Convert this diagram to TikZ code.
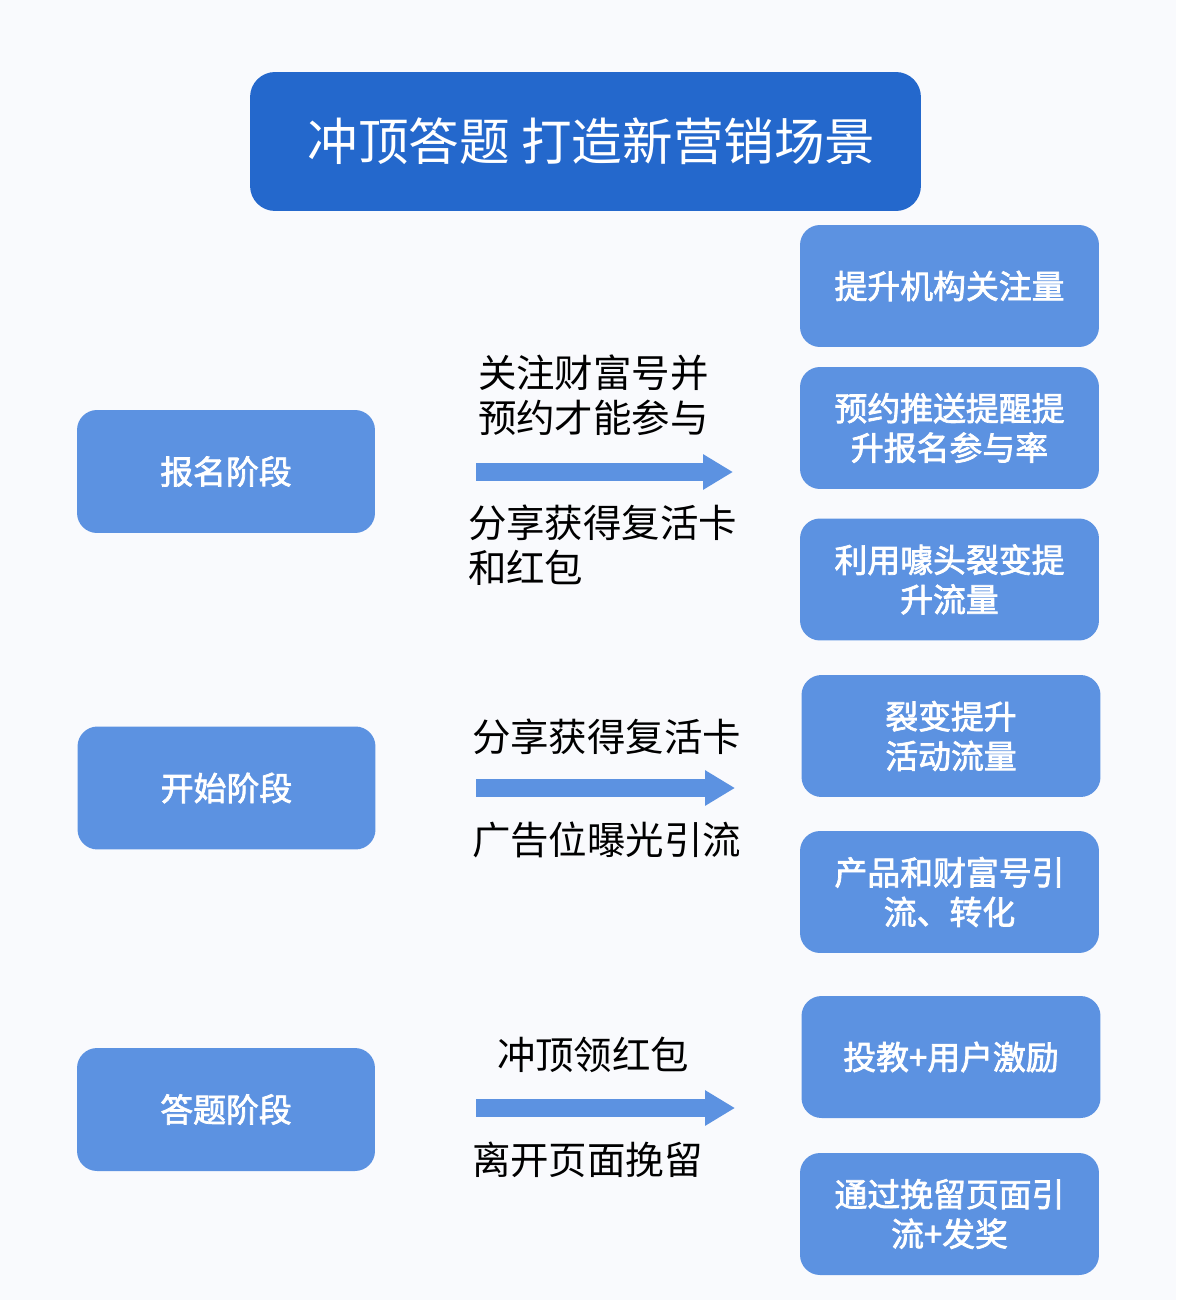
\documentclass[tikz,border=0pt]{standalone}
\usepackage{fontspec}
\setmainfont{Noto Sans CJK SC}
\newfontfamily\boxfont[FakeBold=2.2]{Noto Sans CJK SC}
\usepackage{tikz}
\usetikzlibrary{arrows.meta,positioning}
\definecolor{titleblue}{RGB}{36,104,204}
\definecolor{boxblue}{RGB}{92,146,225}
\definecolor{bgcol}{RGB}{249,250,253}

\begin{document}
\begin{tikzpicture}[x=0.02cm,y=-0.02cm,every node/.style={outer sep=0pt},
 titlebox/.style={fill=titleblue,rounded corners=0.5cm,minimum width=13.42cm,minimum height=2.78cm,text=white,font=\fontsize{28.8}{33}\selectfont},
 stage/.style={fill=boxblue,rounded corners=0.4cm,minimum width=5.96cm,minimum height=2.46cm,text=white,font=\boxfont\fontsize{18.7}{22}\selectfont},
 effect/.style={fill=boxblue,rounded corners=0.4cm,minimum width=5.98cm,minimum height=2.44cm,text=white,align=center,font=\boxfont\fontsize{18.7}{22.5}\selectfont},
 note/.style={anchor=west,align=left,inner sep=0pt,font=\fontsize{21.9}{25.5}\selectfont},
 bigarrow/.style={draw=boxblue,line width=10pt,-{Triangle[length=17pt,width=19pt]}}]

 \fill[bgcol] (0,0) rectangle (1176,1300);

 \node[titlebox] (title) at (585.5,141.5) {\hspace*{7pt}冲顶答题 打造新营销场景};

 % stages
 \node[stage] (signup) at (226,471.5) {报名阶段};
 \node[stage] (start) at (226.5,788) {开始阶段};
 \node[stage] (answer) at (226,1109.5) {答题阶段};

 % results
 \node[effect] (r1) at (949.5,286) {提升机构关注量};
 \node[effect] (r2) at (949.5,428) {预约推送提醒提\\升报名参与率};
 \node[effect] (r3) at (949.5,579.5) {利用噱头裂变提\\升流量};
 \node[effect] (r4) at (951,736) {裂变提升\\活动流量};
 \node[effect] (r5) at (949.5,892) {产品和财富号引\\流、转化};
 \node[effect] (r6) at (951,1057) {投教+用户激励};
 \node[effect] (r7) at (949.5,1214) {通过挽留页面引\\流+发奖};

 % arrows with their notes
 \coordinate (a1s) at (476,472); \coordinate (a1e) at (733,472);
 \coordinate (a2s) at (476,788); \coordinate (a2e) at (735,788);
 \coordinate (a3s) at (476,1108); \coordinate (a3e) at (735,1108);
 \draw[bigarrow] (a1s) -- (a1e);
 \draw[bigarrow] (a2s) -- (a2e);
 \draw[bigarrow] (a3s) -- (a3e);

 \node[note] (n1) at (478,395) {关注财富号并\\预约才能参与};
 \node[note] (n2) at (468,545.5) {分享获得复活卡\\和红包};
 \node[note] (n3) at (472,737) {分享获得复活卡};
 \node[note] (n4) at (472,840) {广告位曝光引流};
 \node[note] (n5) at (497,1055) {冲顶领红包};
 \node[note] (n6) at (472,1160) {离开页面挽留};

\end{tikzpicture}
\end{document}
